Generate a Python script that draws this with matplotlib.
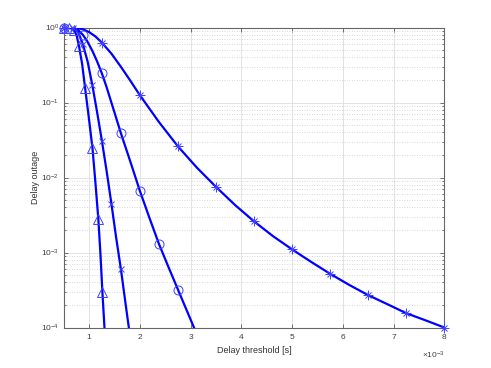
import numpy as np
import matplotlib
matplotlib.use("Agg")
import matplotlib.pyplot as plt
from matplotlib.ticker import LogLocator, NullFormatter, FixedLocator

plt.rcParams['font.family'] = ['Liberation Sans', 'DejaVu Sans']
plt.rcParams['mathtext.fontset'] = 'custom'
plt.rcParams['mathtext.rm'] = 'Liberation Sans'
plt.rcParams['mathtext.it'] = 'Liberation Sans'

# x in units of 1e-3 s
x_tri = [0.5, 0.6, 0.65, 0.7, 0.75, 0.8, 0.86, 0.92, 0.99, 1.065, 1.12,
         1.18, 1.22, 1.26, 1.32]
y_tri = [1.0, 0.995, 0.98, 0.93, 0.8, 0.56, 0.33, 0.155, 0.065, 0.0245,
         0.009, 0.0028, 0.001, 0.0003, 0.00006]
m_tri = [0, 1, 3, 5, 7, 9, 11, 13]

x_cross = [0.5, 0.6875, 0.78, 0.875, 0.97, 1.0625, 1.155, 1.25, 1.345,
           1.4375, 1.53, 1.625, 1.72, 1.8125]
y_cross = [1.0, 0.98, 0.88, 0.6, 0.35, 0.17, 0.075, 0.031, 0.012, 0.0045,
           0.0016, 0.0006, 0.0002, 0.00007]
m_cross = [0, 1, 3, 5, 7, 9, 11]

x_circ = [0.5, 0.6875, 0.78, 0.875, 0.96, 1.0625, 1.155, 1.25, 1.34, 1.4375,
          1.53, 1.625, 1.8125, 2.0, 2.1875, 2.375, 2.5625, 2.75, 2.9375, 3.125]
y_circ = [1.0, 0.985, 0.93, 0.8, 0.66, 0.49, 0.355, 0.245, 0.163, 0.1,
          0.063, 0.039, 0.0162, 0.0066, 0.0029, 0.0013, 0.00064, 0.00032,
          0.00016, 0.00008]
m_circ = [0, 3, 7, 11, 13, 15, 17]

x_star = [0.5, 0.625, 0.75, 0.875, 1.0, 1.125, 1.25, 1.4375, 1.625, 1.8125,
          2.0, 2.375, 2.75, 3.125, 3.5, 3.875, 4.25, 4.625, 5.0, 5.375, 5.75,
          6.125, 6.5, 6.875, 7.25, 7.625, 8.0]
y_star = [1.0, 1.0, 0.99, 0.95, 0.87, 0.76, 0.63, 0.45, 0.30, 0.195, 0.125,
          0.055, 0.026, 0.0135, 0.0075, 0.0043, 0.0026, 0.00165, 0.0011,
          0.00075, 0.00052, 0.00037, 0.00027, 0.000205, 0.000155, 0.000125,
          0.0001]
m_star = [0, 6, 10, 12, 14, 16, 18, 20, 22, 24, 26]

blue = (0, 0, 1)
mk_blue = (0.25, 0.25, 1)

fig = plt.figure(figsize=(4.91, 3.68), dpi=100)
ax = fig.add_axes([0.13, 0.11, 0.775, 0.815])


def draw_markers(xs, ys, idx, marker, size):
    ax.plot([xs[i] for i in idx], [ys[i] for i in idx], linestyle='none',
            marker=marker, ms=size, mfc='none', mec=mk_blue, mew=0.7,
            zorder=4, clip_on=False)


for xs, ys in [(x_tri, y_tri), (x_cross, y_cross), (x_circ, y_circ), (x_star, y_star)]:
    ax.semilogy(xs, ys, '-', color=blue, lw=1.6, zorder=3)

draw_markers(x_tri, y_tri, m_tri, '^', 6.5)
draw_markers(x_cross, y_cross, m_cross, 'x', 5)
draw_markers(x_circ, y_circ, m_circ, 'o', 6.5)
# MATLAB style asterisk = plus + cross
draw_markers(x_star, y_star, m_star, '+', 7)
draw_markers(x_star, y_star, m_star, 'x', 5)

ax.set_xlim(0.5, 8)
ax.set_ylim(1e-4, 1)
ax.xaxis.set_major_locator(FixedLocator([1, 2, 3, 4, 5, 6, 7, 8]))
ax.yaxis.set_major_locator(LogLocator(base=10, numticks=10))
ax.yaxis.set_minor_locator(LogLocator(base=10, subs=np.arange(2, 10), numticks=20))
ax.yaxis.set_minor_formatter(NullFormatter())

ax.grid(True, which='major', color=(0.87, 0.87, 0.87), lw=0.6, ls='-', zorder=0)
ax.grid(True, which='minor', axis='y', color=(0.8, 0.8, 0.8), lw=0.6,
        ls=(0, (1, 2)), zorder=0)
ax.set_axisbelow(True)

ax.tick_params(which='both', direction='in', top=True, right=True,
               labelsize=6, colors=(0.25, 0.25, 0.25), width=0.5)
ax.tick_params(which='major', length=3)
ax.tick_params(which='minor', length=1.6)
ax.tick_params(axis='x', pad=5)
for sp in ax.spines.values():
    sp.set_color((0.4, 0.4, 0.4))
    sp.set_linewidth(0.8)

ax.set_xlabel('Delay threshold [s]', fontsize=6.5, color=(0.2, 0.2, 0.2), labelpad=3)
ax.set_ylabel('Delay outage', fontsize=6.5, color=(0.2, 0.2, 0.2), labelpad=0.5)
ax.text(1.0, -0.075, r'$\times10^{-3}$', transform=ax.transAxes, ha='right',
        va='top', fontsize=6, color=(0.25, 0.25, 0.25))

fig.savefig('out.png', dpi=100)
